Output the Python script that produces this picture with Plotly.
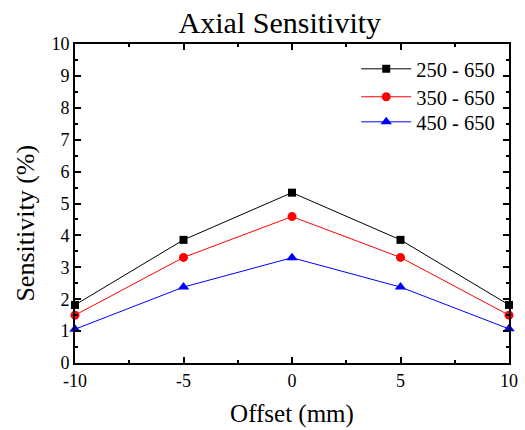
import plotly.graph_objects as go

offset = [-10, -5, 0, 5, 10]
offset_labels = ["-10", "-5", "0", "5", "10"]
s250 = [1.82, 3.86, 5.34, 3.86, 1.82]
s350 = [1.50, 3.31, 4.59, 3.31, 1.50]
s450 = [1.06, 2.38, 3.30, 2.38, 1.07]
names = ["250 - 650", "350 - 650", "450 - 650"]

FONT = "Liberation Serif, Times New Roman, serif"

fig = go.Figure()
specs = [
    (s250, names[0], "black", "square", 8, "legend"),
    (s350, names[1], "red", "circle", 9, "legend2"),
    (s450, names[2], "blue", "triangle-up", 10, "legend3"),
]
for ys, nm, col, sym, sz, lg in specs:
    fig.add_trace(go.Scatter(x=offset, y=ys, name=nm, mode="lines+markers",
                             line=dict(color=col, width=1),
                             marker=dict(color=col, symbol=sym, size=sz),
                             cliponaxis=False, legend=lg))

axis_common = dict(showline=True, linecolor="black", linewidth=2, mirror="ticks",
                   ticks="inside", ticklen=6, tickwidth=1.5, tickcolor="black",
                   showgrid=False, zeroline=False, automargin=False,
                   tickfont=dict(family=FONT, size=18, color="black"))
fig.update_xaxes(range=[-10, 10], tickvals=offset, ticktext=offset_labels,
                 minor=dict(dtick=2.5, ticks="inside", ticklen=3, tickcolor="black"),
                 title=dict(text="Offset (mm)", font=dict(family=FONT, size=25, color="black"), standoff=15),
                 **axis_common)
fig.update_yaxes(range=[0, 10], dtick=1,
                 minor=dict(dtick=0.5, ticks="inside", ticklen=3, tickcolor="black"),
                 **axis_common)

fig.add_annotation(text="Sensitivity (%)", textangle=-90, xref="paper", yref="paper",
                   x=-0.113, y=0.44, xanchor="center", yanchor="middle", showarrow=False,
                   font=dict(family=FONT, size=26, color="black"))

leg = dict(xanchor="left", yanchor="middle", font=dict(family=FONT, size=20.5, color="black"),
           bgcolor="rgba(0,0,0,0)", itemwidth=50)

fig.update_layout(
    width=525, height=430,
    margin=dict(l=75, r=16, t=44, b=67, autoexpand=False),
    paper_bgcolor="white", plot_bgcolor="white",
    title=dict(text="Axial Sensitivity", x=0.533, xanchor="center", y=0.947, yanchor="middle",
               font=dict(family=FONT, size=30, color="black")),
    legend=dict(x=0.648, y=0.9216, **leg),
    legend2=dict(x=0.648, y=0.834, **leg),
    legend3=dict(x=0.648, y=0.7555, **leg),
    showlegend=True,
)

fig.write_html("out.html")
